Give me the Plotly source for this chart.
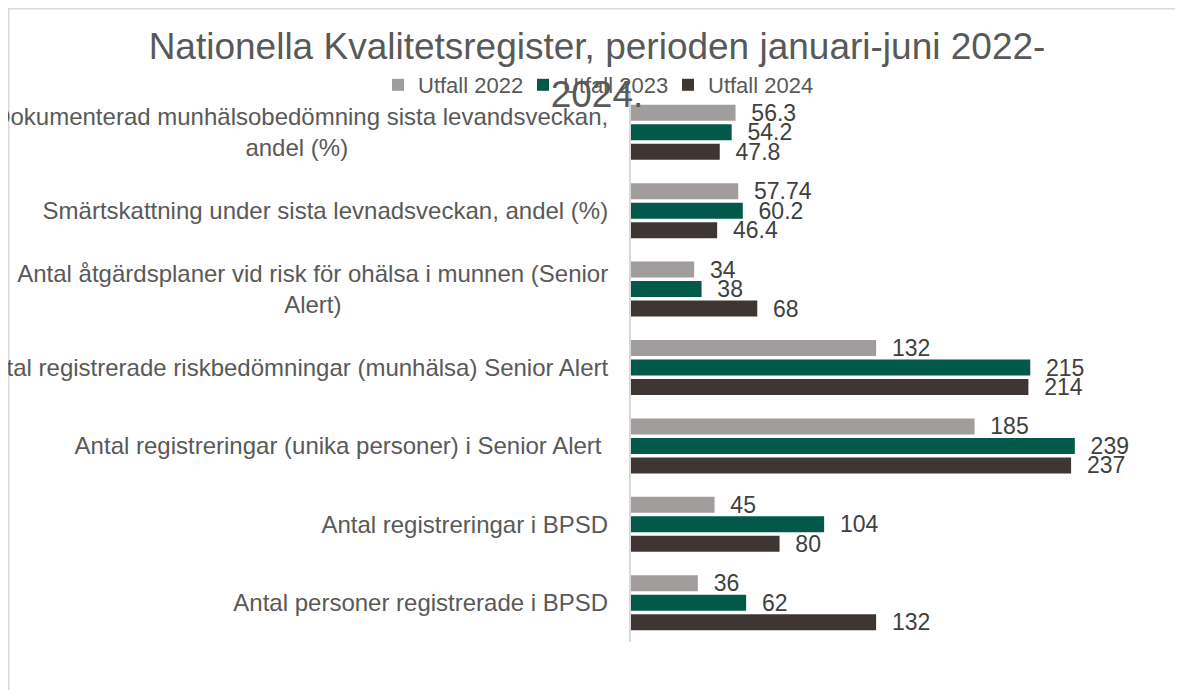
import plotly.graph_objects as go

NB = "\u00a0"

categories = [
    "Dokumenterad munhälsobedömning sista levandsveckan,<br>andel (%)" + NB * 39,
    "Smärtskattning under sista levnadsveckan, andel (%)",
    "Antal åtgärdsplaner vid risk för ohälsa i munnen (Senior<br>Alert)" + NB * 40,
    "Antal registrerade riskbedömningar (munhälsa) Senior Alert",
    "Antal registreringar (unika personer) i Senior Alert ",
    "Antal registreringar i BPSD",
    "Antal personer registrerade i BPSD",
]

series_names = ["Utfall 2022", "Utfall 2023", "Utfall 2024"]
utfall_2022 = [56.3, 57.74, 34, 132, 185, 45, 36]
utfall_2023 = [54.2, 60.2, 38, 215, 239, 104, 62]
utfall_2024 = [47.8, 46.4, 68, 214, 237, 80, 132]
series_values = [utfall_2022, utfall_2023, utfall_2024]
colors = ["#a19d9c", "#02594a", "#3f3633"]

FONT = "Liberation Sans, Arial, sans-serif"

# page has an 8px body margin; figure coordinates = page coordinates - 8
W, H = 1167, 682
L, R, T, B = 623, 12, 85, 48
PW = W - L - R
PH = H - T - B
PX_PER_UNIT = 1.857

legend_ids = ["legend", "legend2", "legend3"]
legend_x_px = [370, 515, 660]

fig = go.Figure()
for name, vals, col, lid in zip(series_names, series_values, colors, legend_ids):
    fig.add_trace(go.Bar(
        y=categories,
        x=vals,
        name=name,
        legend=lid,
        showlegend=True,
        orientation="h",
        marker=dict(color=col, line=dict(width=0)),
        text=[NB * 2 + f"{v:g}" for v in vals],
        textposition="outside",
        constraintext="none",
        cliponaxis=False,
        textfont=dict(family=FONT, size=23, color="#404040"),
        hoverinfo="x+name",
    ))


def px_to_paper_x(px):
    return (px - L) / PW


def px_to_paper_y(py):
    return (H - B - py) / PH


# chart border (extends beyond the visible area at right/bottom)
fig.add_shape(
    type="rect", xref="paper", yref="paper",
    x0=px_to_paper_x(0.75), x1=px_to_paper_x(1250),
    y0=px_to_paper_y(760), y1=px_to_paper_y(0.75),
    line=dict(color="#d9d9d9", width=1.5),
    fillcolor="rgba(0,0,0,0)", layer="below",
)

legend_common = dict(
    orientation="h",
    xref="container", xanchor="left",
    yref="container", y=1 - 77 / H, yanchor="middle",
    font=dict(family=FONT, size=22, color="#595959"),
    bgcolor="rgba(0,0,0,0)",
    itemclick=False,
)
legend_layout = {
    lid: dict(legend_common, x=lx / W) for lid, lx in zip(legend_ids, legend_x_px)
}

fig.update_layout(
    width=W, height=H,
    margin=dict(l=L, r=R, t=T, b=B, autoexpand=False),
    paper_bgcolor="white",
    plot_bgcolor="white",
    showlegend=True,
    barmode="group",
    bargap=0.254,
    bargroupgap=0.18,
    font=dict(family=FONT, color="#595959"),
    title=dict(
        text="Nationella Kvalitetsregister, perioden januari-juni 2022-<br>2024.",
        font=dict(family=FONT, size=37, color="#595959"),
        x=589 / W, xanchor="center",
        y=1 - 51 / H, yanchor="top", yref="container",
    ),
    xaxis=dict(
        range=[0, PW / PX_PER_UNIT],
        visible=False,
        showgrid=False, zeroline=False,
    ),
    yaxis=dict(
        type="category",
        autorange="reversed",
        showline=True, linecolor="#d9d9d9", linewidth=2,
        ticks="",
        ticklabelstandoff=16,
        tickfont=dict(family=FONT, size=24, color="#595959"),
        showgrid=False, zeroline=False,
    ),
    **legend_layout,
)

fig.write_html("out.html")
